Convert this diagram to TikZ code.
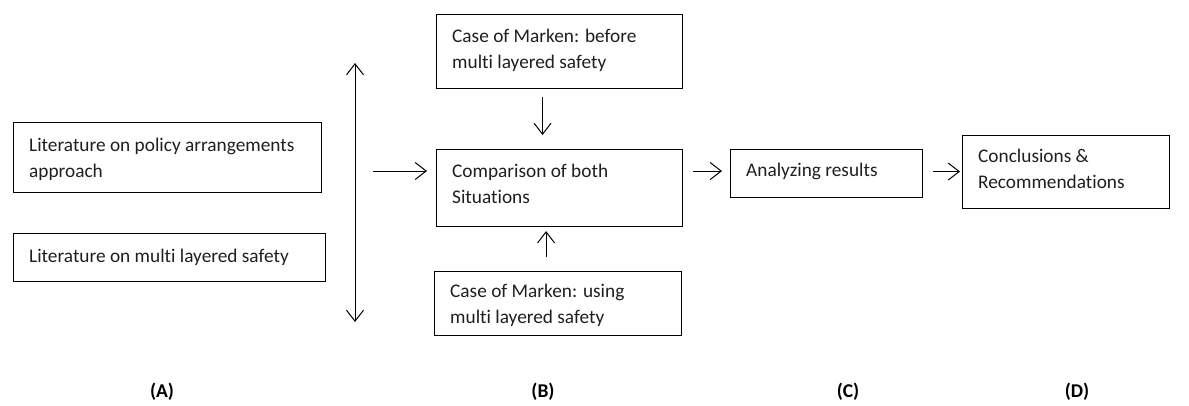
\documentclass[tikz,border=0pt]{standalone}
\usepackage{fontspec}
\setmainfont{Carlito}[Ligatures=NoCommon]
\usetikzlibrary{arrows.meta}
\begin{document}
\begin{tikzpicture}[x=1pt,y=-1pt,
  box/.style={draw,line width=1.1pt,inner sep=0pt,anchor=north west},
  txt/.style={anchor=base west,inner sep=0pt,align=left,text=black!88,font=\fontsize{19.3}{25.8}\selectfont},
  arr/.style={line width=1pt,-{Straight Barb[length=11pt,width=17pt]}},
  darr/.style={line width=1pt,{Straight Barb[length=11pt,width=17pt]}-{Straight Barb[length=11pt,width=17pt]}},
  lab/.style={inner sep=0pt,font=\fontsize{19.5}{23}\selectfont\bfseries}]
\useasboundingbox (0,0) rectangle (1189,405);
% boxes
\node[box,minimum width=308pt,minimum height=70pt] (A1) at (13,122) {};
\node[box,minimum width=312pt,minimum height=48pt] (A2) at (13,233) {};
\node[box,minimum width=246pt,minimum height=74pt] (B1) at (436,14) {};
\node[box,minimum width=246pt,minimum height=77pt] (B2) at (436,149) {};
\node[box,minimum width=247pt,minimum height=64pt] (B3) at (434,271) {};
\node[box,minimum width=192pt,minimum height=48pt] (C) at (730,149) {};
\node[box,minimum width=207pt,minimum height=73pt] (D) at (962,135) {};
% texts (base anchor = baseline of the last line)
\node[txt] (tA1) at ([shift={(16,55.5)}]A1.north west) {Literature on policy arrangements\\approach};
\node[txt] (tA2) at ([shift={(16,29)}]A2.north west) {Literature on multi layered safety};
\node[txt] (tB1) at ([shift={(16,54.5)}]B1.north west) {Case of Marken: before\\multi layered safety};
\node[txt] (tB2) at ([shift={(16,54.5)}]B2.north west) {Comparison of both\\Situations};
\begin{scope}
\clip (434,271) rectangle (681,328);
\node[txt] (tB3) at ([shift={(16,52.5)}]B3.north west) {Case of Marken: using\\multi layered safety};
\end{scope}
\node[txt] (tC) at ([shift={(16,27)}]C.north west) {Analyzing results};
\node[txt] (tD) at ([shift={(16,53.5)}]D.north west) {Conclusions \&\\Recommendations};
% connectors
\coordinate (vt) at (355,63);
\coordinate (vb) at (355,322);
\draw[darr] (vt) -- (vb);
\coordinate (hs) at (373,171);
\draw[arr,shorten >=9pt] (hs) -- (hs -| B2.west);
\draw[arr,shorten <=8pt,shorten >=14pt] ([xshift=-17pt]B1.south) -- ([xshift=-17pt]B2.north);
\draw[arr,shorten <=14pt,shorten >=4pt] ([xshift=-12pt]B3.north) -- ([xshift=-12pt]B3.north |- B2.south);
\draw[arr,shorten <=10pt,shorten >=8pt] ([yshift=17pt]B2.east) -- ([yshift=17pt]B2.east -| C.west);
\draw[arr,shorten <=10pt,shorten >=2pt] ([yshift=2pt]C.east) -- ([yshift=2pt]C.east -| D.west);
% labels
\node[lab] (LA) at (162,392) {(A)};
\node[lab] (LB) at (543,392) {(B)};
\node[lab] (LC) at (848,392) {(C)};
\node[lab] (LD) at (1077,392) {(D)};
\end{tikzpicture}
\end{document}
